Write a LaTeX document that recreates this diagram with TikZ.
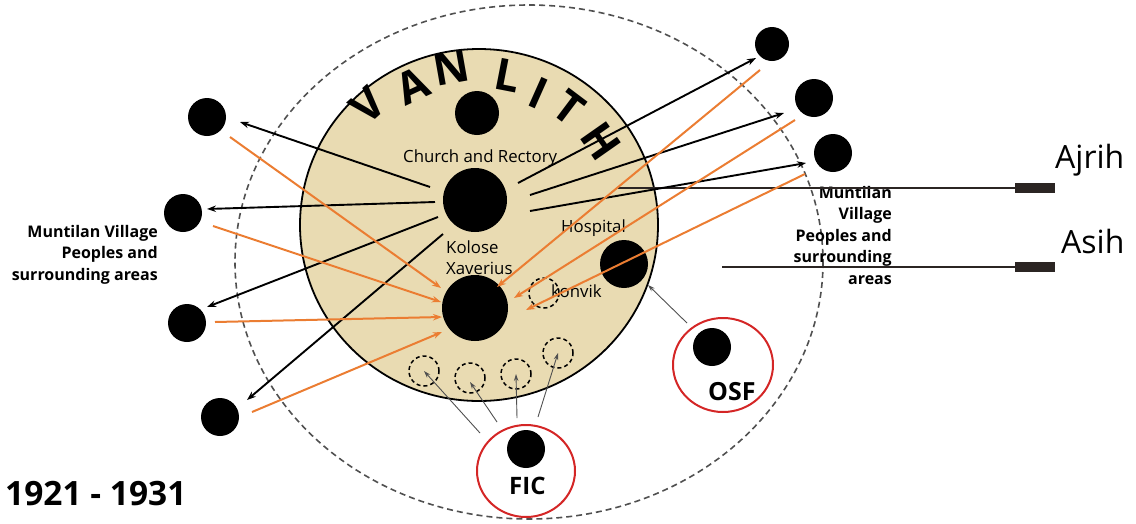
\documentclass[tikz,border=0pt]{standalone}
\usepackage{fontspec}
\setmainfont{Open Sans}
\usetikzlibrary{arrows.meta,shapes.geometric}
\definecolor{campus}{RGB}{233,219,178}
\definecolor{flow}{RGB}{235,125,50}
\definecolor{order}{RGB}{212,38,38}
\definecolor{rim}{RGB}{80,80,80}
\definecolor{barc}{RGB}{43,37,35}
\begin{document}
\begin{tikzpicture}[x=1pt,y=-1pt,
  blob/.style={circle,fill=black,inner sep=0pt,minimum size=#1},
  hole/.style={circle,draw=black,line width=1.5pt,dash pattern=on 4pt off 3pt,inner sep=0pt,minimum size=30pt},
  ring/.style={ellipse,draw=order,line width=2pt,inner sep=0pt},
  outgo/.style={draw=black,line width=1.9pt,-{Stealth[length=9pt,width=6.5pt]}},
  income/.style={draw=flow,line width=2pt,-{Stealth[length=9pt,width=6.5pt]}},
  assign/.style={draw=rim,line width=0.9pt,-{Stealth[length=7pt,width=4.5pt]}},
  lbl/.style={inner sep=0pt,font=\fontsize{16.8}{21.5}\selectfont},
  bold/.style={inner sep=0pt,font=\fontsize{16}{21.5}\selectfont\bfseries,align=right},
  big/.style={inner sep=0pt,font=\fontsize{32}{32}\selectfont},
  letter/.style={inner sep=0pt,font=\fontsize{44}{44}\selectfont\bfseries},
  bar/.style={fill=barc,inner sep=0pt,minimum width=40pt,minimum height=10pt}
]
\useasboundingbox (0,0) rectangle (1136,523);

% surrounding area and the Van Lith campus
\draw[rim,line width=1.6pt,dash pattern=on 6pt off 4pt] (529,262) ellipse [x radius=294, y radius=257];
\filldraw[fill=campus,draw=black,line width=1.8pt] (479,225) ellipse [x radius=179, y radius=176];

% VAN LITH lettering along the rim
\node[letter,rotate=42]  (lV) at (368,105) {V};
\node[letter,rotate=25]  (lA) at (413,86) {A};
\node[letter,rotate=10]  (lN) at (451,68) {N};
\node[letter,rotate=-11] (lL) at (508,75) {L};
\node[letter,rotate=-24] (lI) at (539,93) {I};
\node[letter,rotate=-37] (lT) at (569,108) {T};
\node[letter,rotate=-55] (lH) at (601,141) {H};

% institutions inside the campus
\node[blob=44pt] (top) at (477,113) {};
\node[blob=64pt] (church) at (475,200) {};
\node[blob=66pt] (kolose) at (475,308) {};
\node[blob=48pt] (hospital) at (624,264) {};
\node[hole] (konvik) at (544,293) {};
\node[hole] (h1) at (424,371) {};
\node[hole] (h2) at (470,378) {};
\node[hole] (h3) at (516,374) {};
\node[hole] (h4) at (558,353) {};

% surrounding village dots
\node[blob=38pt] (L1) at (207,117) {};
\node[blob=38pt] (L2) at (183,213) {};
\node[blob=38pt] (L3) at (187,323) {};
\node[blob=38pt] (L4) at (220,417) {};
\node[blob=34pt] (R1) at (772,44) {};
\node[blob=38pt] (R2) at (814,98) {};
\node[blob=38pt] (R3) at (833,153) {};

% congregations
\node[ring,minimum width=100pt,minimum height=94pt] (osfring) at (723,365) {};
\node[blob=38pt] (osf) at (712,347) {};
\node[inner sep=0pt,anchor=base west,font=\fontsize{25}{25}\selectfont\bfseries] (osft) at (708,400) {OSF};
\node[ring,minimum width=98pt,minimum height=92pt] (ficring) at (526,471) {};
\node[blob=38pt] (fic) at (526,449) {};
\node[inner sep=0pt,anchor=base west,font=\fontsize{24}{24}\selectfont\bfseries] (fict) at (509,494) {FIC};

% labels
\node[lbl,anchor=base west] (tchurch) at (403,162) {Church and Rectory};
\node[lbl,anchor=base west] (tkol1) at (446,253) {Kolose};
\node[lbl,anchor=base west] (tkol2) at (446,274) {Xaverius};
\node[lbl,anchor=base west] (thosp) at (561,232) {Hospital};
\node[lbl,anchor=base west] (tkonv) at (551,297) {konvik};
\node[bold,anchor=north east] (vilL) at (158,225) {Muntilan Village\\Peoples and\\surrounding areas};
\node[bold,anchor=north east] (vilR) at (892,186) {Muntilan\\Village\\Peoples and\\surrounding\\areas};
\node[inner sep=0pt,anchor=base west,font=\fontsize{33.5}{33.5}\selectfont\bfseries] (years) at (5,505) {1921 - 1931};
\node[big,anchor=base west] (ajrih) at (1055,168) {Ajrih};
\node[big,anchor=base west] (asih) at (1061,253) {Asih};

% Ajrih and Asih links
\node[bar] (ajrihbar) at (1035,188) {};
\node[bar] (asihbar) at (1035,267) {};
\coordinate (ajrihfrom) at (618,188);
\coordinate (asihfrom) at (722,267);
\draw[barc,line width=1.5pt] (ajrihfrom) -- (ajrihbar.west);
\draw[barc,line width=1.5pt] (asihfrom) -- (asihbar.west);

% outgoing ministry from the church
\coordinate (o1a) at (430,187); \coordinate (o1b) at (240,122);
\coordinate (o2a) at (435,202); \coordinate (o2b) at (207,209);
\coordinate (o3a) at (438,217); \coordinate (o3b) at (207,307);
\coordinate (o4a) at (443,234); \coordinate (o4b) at (247,400);
\coordinate (o5a) at (518,183); \coordinate (o5b) at (756,58);
\coordinate (o6a) at (530,195); \coordinate (o6b) at (784,113);
\coordinate (o7a) at (530,211); \coordinate (o7b) at (806,163);
\draw[outgo] (o1a) -- (o1b);
\draw[outgo] (o2a) -- (o2b);
\draw[outgo] (o3a) -- (o3b);
\draw[outgo] (o4a) -- (o4b);
\draw[outgo] (o5a) -- (o5b);
\draw[outgo] (o6a) -- (o6b);
\draw[outgo] (o7a) -- (o7b);

% pupils coming to Kolose Xaverius
\coordinate (i1a) at (230,137); \coordinate (i1b) at (441,288);
\coordinate (i2a) at (213,226); \coordinate (i2b) at (441,302);
\coordinate (i3a) at (215,322); \coordinate (i3b) at (442,317);
\coordinate (i4a) at (252,412); \coordinate (i4b) at (442,332);
\coordinate (i5a) at (760,70);  \coordinate (i5b) at (497,287);
\coordinate (i6a) at (795,120); \coordinate (i6b) at (514,298);
\coordinate (i7a) at (805,174); \coordinate (i7b) at (526,310);
\draw[income] (i1a) -- (i1b);
\draw[income] (i2a) -- (i2b);
\draw[income] (i3a) -- (i3b);
\draw[income] (i4a) -- (i4b);
\draw[income] (i5a) -- (i5b);
\draw[income] (i6a) -- (i6b);
\draw[income] (i7a) -- (i7b);

% FIC and OSF assignments
\coordinate (f1) at (480,433); \coordinate (f2) at (497,422);
\coordinate (f3) at (517,418); \coordinate (f4) at (538,417);
\draw[assign] (f1) -- (h1.center);
\draw[assign] (f2) -- ([yshift=-4pt]h2.center);
\draw[assign] (f3) -- (h3.center);
\draw[assign] (f4) -- (h4.center);
\coordinate (s1) at (687,323);
\coordinate (hospin) at (648,285);
\draw[assign] (s1) -- (hospin);
\end{tikzpicture}
\end{document}
